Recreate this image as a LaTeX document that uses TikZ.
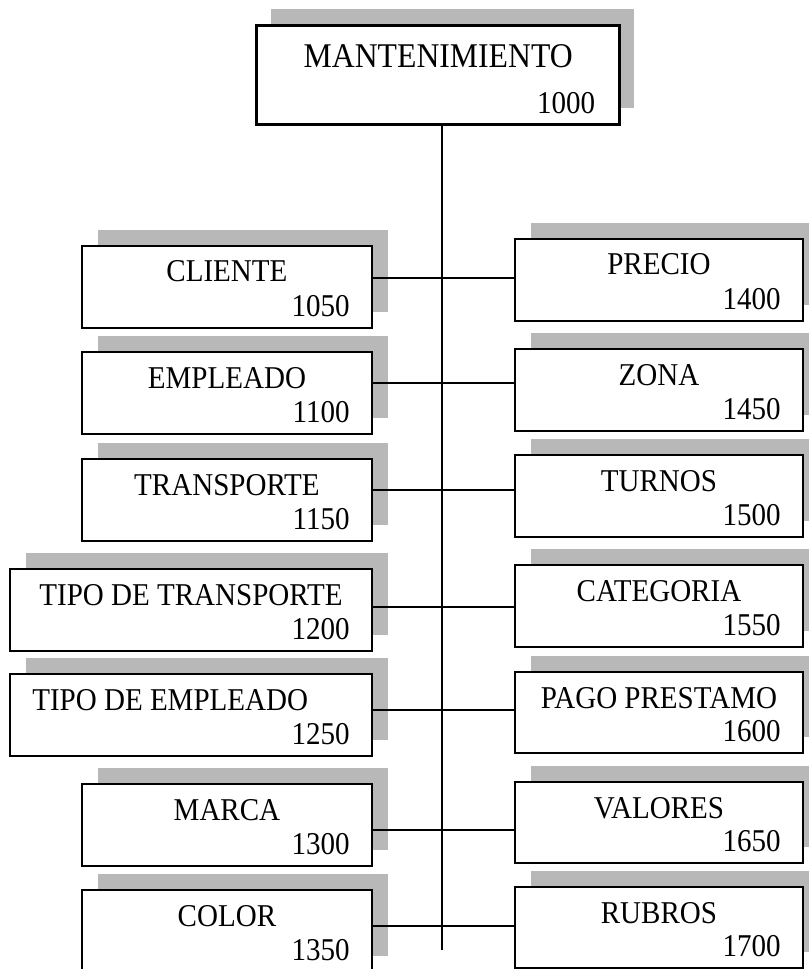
\documentclass[tikz,border=0pt]{standalone}
\usepackage{fontspec}
\setmainfont[FakeStretch=0.915]{Liberation Serif}
\usetikzlibrary{calc,shadows}
\begin{document}
\begin{tikzpicture}[x=0.75pt,y=-0.75pt,
  box/.style={draw=black, line width=1.4pt, fill=white, anchor=north west, inner sep=0pt,
    drop shadow={shadow xshift=12pt, shadow yshift=12pt, fill=black!28, opacity=1}},
  topbox/.style={draw=black, line width=2.6pt, fill=white, anchor=north west, inner sep=0pt,
    drop shadow={shadow xshift=11pt, shadow yshift=12.5pt, fill=black!28, opacity=1}},
  lbl/.style={inner sep=0pt, font=\fontsize{23.8}{26}\selectfont},
  toplbl/.style={inner sep=0pt, font=\fontsize{26}{28}\selectfont},
  conn/.style={draw=black, line width=1.1pt}
]
\useasboundingbox (0,0) rectangle (808,969);

% box macro: name, x1, y1, x2, y2, label, number
\newcommand{\bxdraw}[7]{%
  \node[box, minimum width={(#4-#2)*0.75pt}, minimum height={(#5-#3)*0.75pt}] (#1) at (#2,#3) {};
  \node[lbl, anchor=base] (#1t) at ($(#1.north)+(0,37)$) {#6};
  \node[lbl, anchor=base east] (#1n) at ($(#1.south east)+(-23,-12)$) {#7};
}
\newcommand{\bxdrawL}[7]{%
  \node[box, minimum width={(#4-#2)*0.75pt}, minimum height={(#5-#3)*0.75pt}] (#1) at (#2,#3) {};
  \node[lbl, anchor=base west] (#1t) at ($(#1.north west)+(23,37)$) {#6};
  \node[lbl, anchor=base east] (#1n) at ($(#1.south east)+(-23,-12)$) {#7};
}

% top box
\node[topbox, minimum width={363*0.75pt}, minimum height={99*0.75pt}] (top) at (255,24) {};
\node[toplbl, anchor=base] (topt) at ($(top.north)+(0,44)$) {MANTENIMIENTO};
\node[lbl, anchor=base east] (topn) at ($(top.south east)+(-26,-13)$) {1000};

% left boxes
\bxdraw{cl}{81}{245}{371}{327}{CLIENTE}{1050}
\bxdraw{em}{81}{351}{371}{433}{EMPLEADO}{1100}
\bxdraw{tr}{81}{458}{371}{540}{TRANSPORTE}{1150}
\bxdraw{tt}{9}{568}{371}{650}{TIPO DE TRANSPORTE}{1200}
\bxdrawL{te}{9}{673}{371}{755}{TIPO DE EMPLEADO}{1250}
\bxdraw{ma}{81}{783}{371}{865}{MARCA}{1300}
\bxdraw{co}{81}{889}{371}{971}{COLOR}{1350}

% right boxes
\bxdraw{pr}{514}{238}{802}{320}{PRECIO}{1400}
\bxdraw{zo}{514}{348}{802}{430}{ZONA}{1450}
\bxdraw{tu}{514}{454}{802}{536}{TURNOS}{1500}
\bxdraw{ca}{514}{564}{802}{646}{CATEGORIA}{1550}
\bxdraw{pp}{514}{671}{802}{752}{PAGO PRESTAMO}{1600}
\bxdraw{va}{514}{781}{802}{862}{VALORES}{1650}
\bxdraw{ru}{514}{886}{802}{967}{RUBROS}{1700}

% trunk
\coordinate (tend) at (442,950);
\draw[conn] (top.south -| tend) -- (tend);

% junctions
\coordinate (j1) at (442,278);
\coordinate (j2) at (442,383);
\coordinate (j3) at (442,490);
\coordinate (j4) at (442,607);
\coordinate (j5) at (442,710);
\coordinate (j6) at (442,830);
\coordinate (j7) at (442,926);

\draw[conn] (cl.east |- j1) -- (pr.west |- j1);
\draw[conn] (em.east |- j2) -- (zo.west |- j2);
\draw[conn] (tr.east |- j3) -- (tu.west |- j3);
\draw[conn] (tt.east |- j4) -- (ca.west |- j4);
\draw[conn] (te.east |- j5) -- (pp.west |- j5);
\draw[conn] (ma.east |- j6) -- (va.west |- j6);
\draw[conn] (co.east |- j7) -- (ru.west |- j7);
\end{tikzpicture}
\end{document}
